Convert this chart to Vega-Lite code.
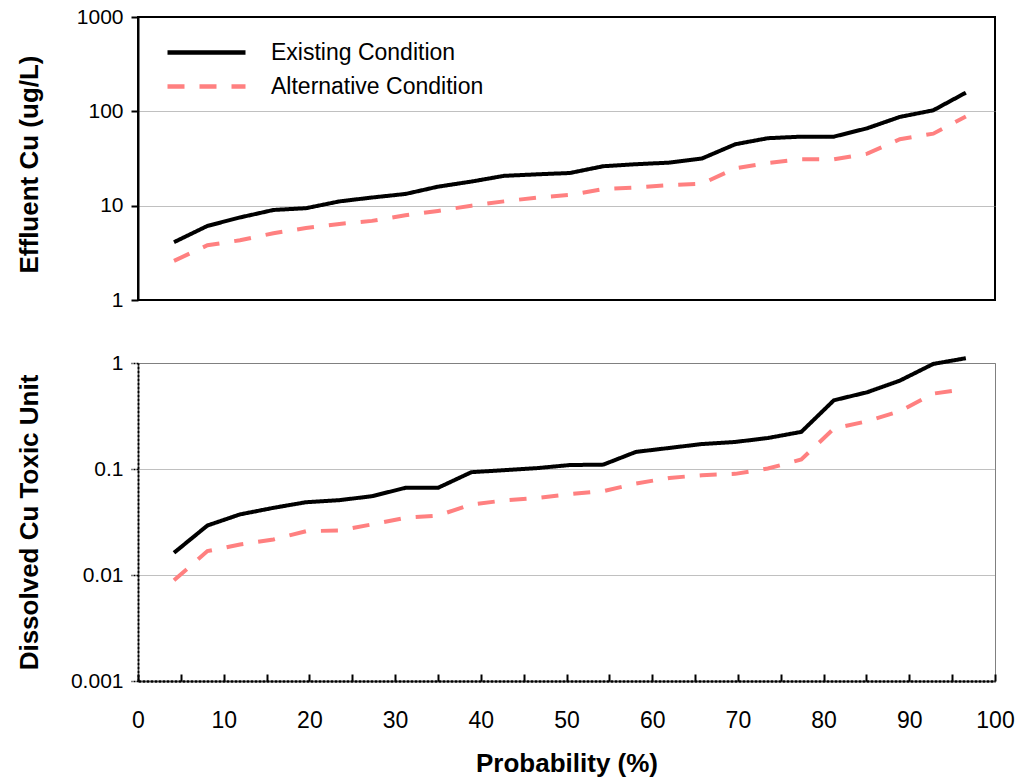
{
  "$schema": "https://vega.github.io/schema/vega-lite/v6.json",
  "background": "white",
  "padding": {"left": 15, "top": 5, "right": 5, "bottom": 5},
  "bounds": "flush",
  "config": {
    "font": "Liberation Sans",
    "axis": {
      "labelFont": "Liberation Sans",
      "labelColor": "black",
      "titleFont": "Liberation Sans",
      "titleFontWeight": "bold",
      "titleFontSize": 26,
      "titleColor": "black"
    }
  },
  "data": {
    "values": [
      {"p": 4.2, "cond": "Existing Condition", "eff": 4.1, "tu": 0.0162},
      {"p": 8.1, "cond": "Existing Condition", "eff": 6.1, "tu": 0.0293},
      {"p": 11.9, "cond": "Existing Condition", "eff": 7.5, "tu": 0.0373},
      {"p": 15.8, "cond": "Existing Condition", "eff": 9.0, "tu": 0.043},
      {"p": 19.6, "cond": "Existing Condition", "eff": 9.4, "tu": 0.0486},
      {"p": 23.5, "cond": "Existing Condition", "eff": 11.1, "tu": 0.0508},
      {"p": 27.3, "cond": "Existing Condition", "eff": 12.2, "tu": 0.0554},
      {"p": 31.2, "cond": "Existing Condition", "eff": 13.3, "tu": 0.0664},
      {"p": 35.0, "cond": "Existing Condition", "eff": 15.9, "tu": 0.0664},
      {"p": 38.9, "cond": "Existing Condition", "eff": 18.0, "tu": 0.0933},
      {"p": 42.7, "cond": "Existing Condition", "eff": 20.7, "tu": 0.0975},
      {"p": 46.6, "cond": "Existing Condition", "eff": 21.5, "tu": 0.102},
      {"p": 50.4, "cond": "Existing Condition", "eff": 22.2, "tu": 0.109},
      {"p": 54.3, "cond": "Existing Condition", "eff": 26.2, "tu": 0.110},
      {"p": 58.1, "cond": "Existing Condition", "eff": 27.5, "tu": 0.145},
      {"p": 62.0, "cond": "Existing Condition", "eff": 28.6, "tu": 0.158},
      {"p": 65.8, "cond": "Existing Condition", "eff": 31.6, "tu": 0.172},
      {"p": 69.7, "cond": "Existing Condition", "eff": 44.8, "tu": 0.180},
      {"p": 73.5, "cond": "Existing Condition", "eff": 51.9, "tu": 0.196},
      {"p": 77.4, "cond": "Existing Condition", "eff": 53.9, "tu": 0.224},
      {"p": 81.2, "cond": "Existing Condition", "eff": 53.9, "tu": 0.445},
      {"p": 85.1, "cond": "Existing Condition", "eff": 66.2, "tu": 0.530},
      {"p": 88.9, "cond": "Existing Condition", "eff": 87.3, "tu": 0.682},
      {"p": 92.8, "cond": "Existing Condition", "eff": 102.6, "tu": 0.98},
      {"p": 96.6, "cond": "Existing Condition", "eff": 157.8, "tu": 1.11},
      {"p": 4.2, "cond": "Alternative Condition", "eff": 2.6, "tu": 0.0089},
      {"p": 8.1, "cond": "Alternative Condition", "eff": 3.8, "tu": 0.0168},
      {"p": 11.9, "cond": "Alternative Condition", "eff": 4.3, "tu": 0.0194},
      {"p": 15.8, "cond": "Alternative Condition", "eff": 5.1, "tu": 0.0216},
      {"p": 19.6, "cond": "Alternative Condition", "eff": 5.8, "tu": 0.0259},
      {"p": 23.5, "cond": "Alternative Condition", "eff": 6.4, "tu": 0.0263},
      {"p": 27.3, "cond": "Alternative Condition", "eff": 6.9, "tu": 0.030},
      {"p": 31.2, "cond": "Alternative Condition", "eff": 7.9, "tu": 0.0346},
      {"p": 35.0, "cond": "Alternative Condition", "eff": 8.8, "tu": 0.0364},
      {"p": 38.9, "cond": "Alternative Condition", "eff": 10.0, "tu": 0.0462},
      {"p": 42.7, "cond": "Alternative Condition", "eff": 11.1, "tu": 0.0505},
      {"p": 46.6, "cond": "Alternative Condition", "eff": 12.2, "tu": 0.0534},
      {"p": 50.4, "cond": "Alternative Condition", "eff": 13.0, "tu": 0.058},
      {"p": 54.3, "cond": "Alternative Condition", "eff": 15.0, "tu": 0.0618},
      {"p": 58.1, "cond": "Alternative Condition", "eff": 15.6, "tu": 0.073},
      {"p": 62.0, "cond": "Alternative Condition", "eff": 16.5, "tu": 0.0824},
      {"p": 65.8, "cond": "Alternative Condition", "eff": 17.1, "tu": 0.0874},
      {"p": 69.7, "cond": "Alternative Condition", "eff": 24.9, "tu": 0.090},
      {"p": 73.5, "cond": "Alternative Condition", "eff": 28.4, "tu": 0.101},
      {"p": 77.4, "cond": "Alternative Condition", "eff": 31.0, "tu": 0.123},
      {"p": 81.2, "cond": "Alternative Condition", "eff": 31.0, "tu": 0.241},
      {"p": 85.1, "cond": "Alternative Condition", "eff": 35.6, "tu": 0.282},
      {"p": 88.9, "cond": "Alternative Condition", "eff": 50.6, "tu": 0.351},
      {"p": 92.8, "cond": "Alternative Condition", "eff": 58.0, "tu": 0.514},
      {"p": 96.6, "cond": "Alternative Condition", "eff": 88.0, "tu": 0.569}
    ]
  },
  "spacing": 63,
  "resolve": {
    "scale": {"color": "independent", "strokeDash": "independent"},
    "legend": {"color": "independent", "strokeDash": "independent"}
  },
  "vconcat": [
    {
      "width": 857,
      "height": 283,
      "view": {"stroke": "black", "strokeWidth": 2},
      "mark": {"type": "line", "strokeWidth": 4},
      "encoding": {
        "x": {"field": "p", "type": "quantitative", "scale": {"domain": [0, 100], "nice": false}, "axis": null},
        "y": {
          "field": "eff", "type": "quantitative",
          "scale": {"type": "log", "domain": [1, 1000], "nice": false},
          "axis": {
            "values": [1, 10, 100, 1000], "format": "~g",
            "title": "Effluent Cu (ug/L)", "titleX": -109, "titleY": 147, "titleBaseline": "middle",
            "labelFontSize": 21, "labelPadding": 8,
            "tickSize": 7, "tickColor": "black", "tickWidth": 2,
            "domainColor": "black", "domainWidth": 2,
            "grid": true, "gridColor": "#808080", "gridDash": [1, 1], "gridWidth": 1,
            "gridOpacity": {"condition": {"test": "datum.value == 1 || datum.value == 1000", "value": 0}, "value": 1}
          }
        },
        "color": {
          "field": "cond", "type": "nominal",
          "scale": {"domain": ["Existing Condition", "Alternative Condition"], "range": ["black", "#FF8080"]},
          "legend": {
            "orient": "none", "legendX": 53, "legendY": 20, "title": null,
            "symbolType": "M-3,0L3,0", "symbolSize": 676, "symbolStrokeWidth": 4.5, "symbolFillColor": "transparent",
            "labelFontSize": 23, "labelColor": "black", "labelFont": "Liberation Sans",
            "labelOffset": 49, "labelLimit": 500, "rowPadding": 6
          }
        },
        "strokeDash": {
          "field": "cond", "type": "nominal",
          "scale": {"domain": ["Existing Condition", "Alternative Condition"], "range": [[1, 0], [17, 15]]},
          "legend": {
            "orient": "none", "legendX": 53, "legendY": 20, "title": null,
            "symbolType": "M-3,0L3,0", "symbolSize": 676, "symbolStrokeWidth": 4.5, "symbolFillColor": "transparent",
            "labelFontSize": 23, "labelColor": "black", "labelFont": "Liberation Sans",
            "labelOffset": 49, "labelLimit": 500, "rowPadding": 6
          }
        }
      }
    },
    {
      "width": 857,
      "height": 318,
      "view": {"stroke": "#808080", "strokeWidth": 1},
      "mark": {"type": "line", "strokeWidth": 4},
      "encoding": {
        "x": {
          "field": "p", "type": "quantitative", "scale": {"domain": [0, 100], "nice": false},
          "axis": {
            "values": [0, 5, 10, 15, 20, 25, 30, 35, 40, 45, 50, 55, 60, 65, 70, 75, 80, 85, 90, 95, 100],
            "labelExpr": "datum.value % 10 == 0 ? datum.label : ''",
            "title": "Probability (%)", "titleY": 69, "titleBaseline": "top",
            "labelFontSize": 23, "labelPadding": 35, "labelFlush": false,
            "tickSize": -7, "tickColor": "black", "tickWidth": 2,
            "domainColor": "black", "domainWidth": 2.5, "domainDash": [3, 1],
            "grid": false
          }
        },
        "y": {
          "field": "tu", "type": "quantitative",
          "scale": {"type": "log", "domain": [0.001, 1], "nice": false},
          "axis": {
            "values": [0.001, 0.01, 0.1, 1], "format": "~g",
            "title": "Dissolved Cu Toxic Unit", "titleX": -109, "titleBaseline": "middle",
            "labelFontSize": 21, "labelPadding": 8,
            "tickSize": 7, "tickColor": "black", "tickWidth": 1.5, "tickDash": [2, 1],
            "domainColor": "black", "domainWidth": 2, "domainDash": [3, 1],
            "grid": true, "gridColor": "#808080", "gridDash": [1, 1], "gridWidth": 1,
            "gridOpacity": {"condition": {"test": "datum.value == 0.001", "value": 0}, "value": 1}
          }
        },
        "color": {
          "field": "cond", "type": "nominal",
          "scale": {"domain": ["Existing Condition", "Alternative Condition"], "range": ["black", "#FF8080"]},
          "legend": null
        },
        "strokeDash": {
          "field": "cond", "type": "nominal",
          "scale": {"domain": ["Existing Condition", "Alternative Condition"], "range": [[1, 0], [17, 15]]},
          "legend": null
        }
      }
    }
  ]
}
